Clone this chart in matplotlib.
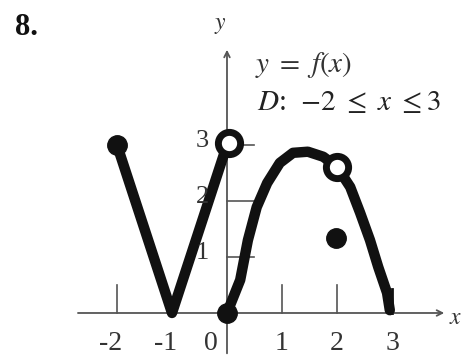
import numpy as np
import matplotlib
matplotlib.use('Agg')
import matplotlib.pyplot as plt

plt.rcParams['font.family'] = ['Liberation Serif', 'DejaVu Serif']
plt.rcParams['mathtext.fontset'] = 'stix'

# piecewise graph of y = f(x)
left_x = [-2, -1, 0]
left_y = [3, 0, 3]
right_x = [0, 0.24, 0.38, 0.54, 0.73, 0.96, 1.2, 1.47, 1.75, 2.0, 2.24, 2.42, 2.6, 2.75, 2.91, 2.96]
right_y = [0, 0.59, 1.30, 1.89, 2.32, 2.68, 2.86, 2.88, 2.79, 2.61, 2.25, 1.79, 1.30, 0.82, 0.36, 0.05]

filled_x = [-2, 0, 1.98]
filled_y = [3, 0, 1.34]
open_x = [0.03, 2.0]
open_y = [3.03, 2.61]

xtick_vals = [-2, -1, 0, 1, 2, 3]
xtick_text = ['-2', '-1', '0', '1', '2', '3']
ytick_vals = [1, 2, 3]

fig = plt.figure(figsize=(4.64, 3.56), dpi=100)
ax = fig.add_axes([0, 0, 1, 1])
ax.set_xlim(-4.127, 4.309)
ax.set_ylim(-0.768, 5.589)
ax.axis('off')

ink = '#111111'
axc = '#555555'

# axes with arrows
ax.annotate('', xy=(4.0, 0), xytext=(-2.76, 0),
            arrowprops=dict(arrowstyle='->', color=axc, lw=1.3))
ax.annotate('', xy=(0, 4.75), xytext=(0, -0.77),
            arrowprops=dict(arrowstyle='->', color=axc, lw=1.3))

# tick marks
for xv in [-2, 1, 2]:
    ax.plot([xv, xv], [0, 0.5], color=axc, lw=1.2)
ax.plot([3, 3], [0, 0.42], color=ink, lw=2.0)
for yv in ytick_vals:
    ax.plot([0, 0.5], [yv, yv], color=axc, lw=1.2)

# curve
ax.plot(left_x, left_y, color=ink, lw=7.5, solid_capstyle='round', solid_joinstyle='round', zorder=3)
ax.plot(right_x, right_y, color=ink, lw=7.5, solid_capstyle='round', solid_joinstyle='round', zorder=3)

ax.plot(filled_x, filled_y, 'o', color=ink, markersize=14, zorder=4)
ax.plot(open_x, open_y, 'o', markerfacecolor='white', markeredgecolor=ink,
        markersize=16, markeredgewidth=5.0, zorder=5)

# tick labels
for xv, s in zip(xtick_vals, xtick_text):
    ax.text(xv - (0.12 if xv < 0 else 0) - (0.3 if xv == 0 else 0), -0.54, s,
            ha='center', va='center', fontsize=20, color='#333333')
for yv in ytick_vals:
    ax.text(-0.45, yv + 0.08, str(yv), ha='center', va='center', fontsize=19, color='#333333')

# labels
ax.text(-3.85, 5.09, '8.', ha='left', va='center', fontsize=22, fontweight='bold', color=ink)
ax.text(-0.13, 5.14, '$y$', ha='center', va='center', fontsize=17, color='#333333')
ax.text(4.15, -0.09, '$x$', ha='center', va='center', fontsize=17, color='#333333')
ax.text(0.51, 4.43, r'$y\ =\ f(x)$', ha='left', va='center', fontsize=21, color='#333333')
ax.text(0.55, 3.75, r'$D$:  $-2\ \leq\ x\ \leq 3$', ha='left', va='center', fontsize=21, color='#222222')

fig.savefig('out.png', dpi=100, facecolor='white')
